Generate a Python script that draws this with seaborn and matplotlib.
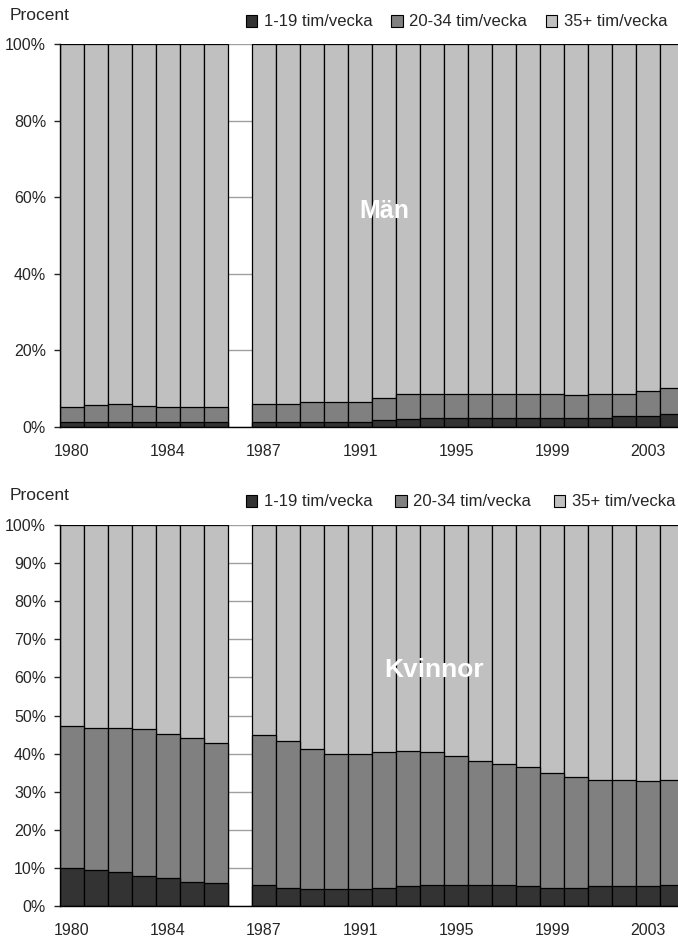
import matplotlib
matplotlib.use('Agg')
import matplotlib.pyplot as plt
from matplotlib.patches import Patch
import pandas as pd
import seaborn as sns

sns.set_style('white')
plt.rcParams['font.family'] = ['Liberation Sans', 'DejaVu Sans']

years_before = ['1980', '1981', '1982', '1983', '1984', '1985', '1986']
years_after = ['1987', '1988', '1989', '1990', '1991', '1992', '1993', '1994', '1995',
               '1996', '1997', '1998', '1999', '2000', '2001', '2002', '2003', '2004']
gap = ' '
categories = years_before + [gap] + years_after
tick_years = ['1980', '1984', '1987', '1991', '1995', '1999', '2003']

groups = ['1-19 tim/vecka', '20-34 tim/vecka', '35+ tim/vecka']
colors = ['#333333', '#808080', '#c0c0c0']

# andel i procent, 1-19 tim och 20-34 tim
men_low = [1.2, 1.2, 1.2, 1.2, 1.2, 1.2, 1.2,
           1.2, 1.2, 1.2, 1.2, 1.2, 1.7, 2.0, 2.4, 2.4, 2.4, 2.4, 2.4, 2.4, 2.4, 2.4, 2.8, 2.8, 3.3]
men_mid = [3.9, 4.5, 4.8, 4.4, 3.9, 3.9, 3.9,
           4.9, 4.9, 5.2, 5.2, 5.2, 5.8, 6.5, 6.3, 6.3, 6.3, 6.3, 6.1, 6.1, 6.0, 6.3, 5.9, 6.7, 6.9]
women_low = [10.1, 9.5, 8.8, 8.0, 7.3, 6.4, 6.0,
             5.5, 4.8, 4.4, 4.4, 4.4, 4.7, 5.2, 5.5, 5.5, 5.5, 5.5, 5.2, 4.8, 4.8, 5.2, 5.2, 5.2, 5.5]
women_mid = [37.1, 37.3, 37.9, 38.4, 37.8, 37.6, 36.8,
             39.3, 38.4, 36.9, 35.6, 35.5, 35.6, 35.5, 34.8, 34.0, 32.5, 31.7, 31.2, 30.0, 29.1,
             28.0, 28.0, 27.5, 27.7]


def make_df(low, mid):
    yrs = years_before + years_after
    high = [100 - a - b for a, b in zip(low, mid)]
    df = pd.DataFrame({'year': yrs, 'low': low, 'mid': mid, 'high': high})
    df['c1'] = df['low']
    df['c2'] = df['low'] + df['mid']
    df['c3'] = df['c2'] + df['high']
    return df


def draw(ax, df, yticks, label, label_xy, label_size):
    for col, color in zip(['c3', 'c2', 'c1'], colors[::-1]):
        sns.barplot(data=df, x='year', y=col, order=categories, color=color,
                    width=1.0, edgecolor='black', linewidth=0.9, saturation=1,
                    ax=ax, zorder=2)
    ax.set_xlim(-0.5, len(categories) - 0.5)
    ax.set_ylim(0, 100)
    ax.set_yticks(yticks)
    ax.set_yticklabels([f'{t}%' for t in yticks], fontsize=11.5)
    ax.set_xticks([categories.index(y) for y in tick_years])
    ax.set_xticklabels(tick_years, fontsize=11.5)
    ax.tick_params(axis='x', length=0, pad=12)
    ax.tick_params(axis='y', length=4, width=1, pad=6, direction='out', left=True)
    ax.set_axisbelow(True)
    ax.yaxis.grid(True, color='#a0a0a0', linewidth=1)
    ax.xaxis.grid(False)
    for s in ['top', 'right']:
        ax.spines[s].set_visible(False)
    for s in ['left', 'bottom']:
        ax.spines[s].set_visible(True)
        ax.spines[s].set_color('black')
        ax.spines[s].set_linewidth(1)
        ax.spines[s].set_zorder(3)
    ax.set_xlabel('')
    ax.set_ylabel('')
    ax.text(label_xy[0], label_xy[1], label, color='white', fontsize=label_size,
            fontweight='bold', ha='center', va='center', zorder=5)


fig = plt.figure(figsize=(6.78, 9.36), dpi=100)
W, H = 678, 936
ax1 = fig.add_axes([60 / W, 1 - 427 / H, 624 / W, 383 / H])
ax2 = fig.add_axes([60 / W, 1 - 906 / H, 624 / W, 381 / H])

draw(ax1, make_df(men_low, men_mid), [0, 20, 40, 60, 80, 100], 'Män', (13.0, 56.5), 18)
draw(ax2, make_df(women_low, women_mid), list(range(0, 101, 10)), 'Kvinnor', (15.1, 62), 19)

handles = [Patch(facecolor=c, edgecolor='black', linewidth=0.8) for c in colors]
for y, cs in [(22, 1.1), (502, 1.35)]:
    fig.legend(handles, groups, loc='center left', bbox_to_anchor=(239 / W, 1 - y / H),
               ncol=3, frameon=False, fontsize=12, handlelength=0.7, handleheight=0.7,
               handletextpad=0.4, columnspacing=cs, borderaxespad=0)
    fig.text(10 / W, 1 - (y - 7) / H, 'Procent', fontsize=12.5, va='center', ha='left')

fig.savefig('out.png', dpi=100)
